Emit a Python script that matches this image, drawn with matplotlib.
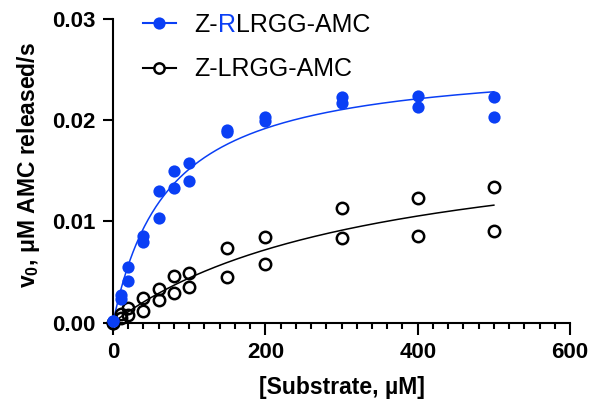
import numpy as np
import matplotlib
matplotlib.use("Agg")
import matplotlib.pyplot as plt
from matplotlib.lines import Line2D
from matplotlib.ticker import MultipleLocator, FormatStrFormatter

plt.rcParams["font.family"] = ["Liberation Sans", "DejaVu Sans"]
plt.rcParams["mathtext.fontset"] = "custom"
plt.rcParams["mathtext.rm"] = "Liberation Sans:bold"
plt.rcParams["mathtext.bf"] = "Liberation Sans:bold"
plt.rcParams["mathtext.it"] = "Liberation Sans:bold"

BLUE = "#0a3ff5"

# substrate concentrations (uM), each measured in duplicate
conc = [0, 10, 20, 40, 60, 80, 100, 150, 200, 300, 400, 500]

# initial rates, uM AMC released per s
rlrgg_rep1 = [0.0002, 0.0027, 0.0055, 0.0086, 0.0130, 0.0150, 0.0158, 0.0190, 0.0203, 0.0223, 0.0224, 0.0223]
rlrgg_rep2 = [0.0002, 0.0023, 0.0041, 0.0080, 0.0103, 0.0133, 0.0140, 0.0188, 0.0199, 0.0217, 0.0213, 0.0203]
lrgg_rep1 = [0.0000, 0.0009, 0.0015, 0.0024, 0.0033, 0.0046, 0.0049, 0.0074, 0.0085, 0.0113, 0.0123, 0.0134]
lrgg_rep2 = [0.0000, 0.0005, 0.0008, 0.0012, 0.0022, 0.0029, 0.0035, 0.0045, 0.0058, 0.0084, 0.0086, 0.0091]

# Michaelis-Menten fits (Vmax in uM/s, Km in uM)
rlrgg_vmax, rlrgg_km = 0.0261, 72.0
lrgg_vmax, lrgg_km = 0.0196, 344.0

fig = plt.figure(figsize=(5.92, 4.08), dpi=100)
ax = fig.add_axes([0.1909, 0.2091, 0.7720, 0.7443])

s_fit = np.linspace(0, 500, 400)
ax.plot(s_fit, lrgg_vmax * s_fit / (lrgg_km + s_fit), color="black", lw=1.1, zorder=2)
ax.plot(s_fit, rlrgg_vmax * s_fit / (rlrgg_km + s_fit), color=BLUE, lw=1.1, zorder=2)

for rep in (lrgg_rep1, lrgg_rep2):
    ax.plot(conc, rep, ls="none", marker="o", ms=8.2, mew=1.8,
            mfc="none", mec="black", clip_on=False, zorder=3)
for rep in (rlrgg_rep1, rlrgg_rep2):
    ax.plot(conc, rep, ls="none", marker="o", ms=8.8, mew=0,
            mfc=BLUE, clip_on=False, zorder=4)

ax.set_xlim(0, 600)
ax.set_ylim(0, 0.03)
ax.xaxis.set_major_locator(MultipleLocator(200))
ax.xaxis.set_minor_locator(MultipleLocator(20))
ax.yaxis.set_major_locator(MultipleLocator(0.01))
ax.yaxis.set_major_formatter(FormatStrFormatter("%.2f"))

for side in ("top", "right"):
    ax.spines[side].set_visible(False)
for side in ("left", "bottom"):
    ax.spines[side].set_linewidth(1.5)

ax.tick_params(axis="x", which="major", length=8.5, width=1.5, pad=5.5)
ax.tick_params(axis="x", which="minor", length=4.5, width=1.5)
ax.tick_params(axis="y", which="major", length=7.5, width=1.5, pad=5)
for lab in ax.get_xticklabels() + ax.get_yticklabels():
    lab.set_fontsize(16)
    lab.set_fontweight("bold")

ax.set_xlabel("[Substrate, µM]", fontsize=16.5, fontweight="bold")
ax.set_ylabel(r"v$_\mathregular{0}$, μM AMC released/s", fontsize=16.5, fontweight="bold")
ax.xaxis.set_label_coords(0.5, -0.175)
ax.yaxis.set_label_coords(-0.155, 0.52)

# legend, built by hand so the "R" can be coloured
rows = [(0.9223, 0.943, BLUE, True), (0.8137, 0.833, "black", False)]
for base_y, mid_y, col, filled in rows:
    fig.add_artist(Line2D([0.241, 0.297], [mid_y, mid_y], color=col, lw=1.5,
                          transform=fig.transFigure))
    fig.add_artist(Line2D([0.269], [mid_y], ls="none", marker="o",
                          ms=8.8 if filled else 7.4, mew=0 if filled else 1.8,
                          mfc=col if filled else "white", mec=col,
                          transform=fig.transFigure))

leg_kw = dict(fontsize=18, va="bottom", ha="left")
t1 = fig.text(0.328, 0.9223, "Z-", va="baseline", ha="left", fontsize=18)
t2 = ax.annotate("R", xy=(1, 0), xycoords=t1, color=BLUE, annotation_clip=False, **leg_kw)
ax.annotate("LRGG-AMC", xy=(1, 0), xycoords=t2, annotation_clip=False, **leg_kw)
fig.text(0.328, 0.8137, "Z-LRGG-AMC", va="baseline", ha="left", fontsize=18)

fig.savefig("out.png", dpi=100)
